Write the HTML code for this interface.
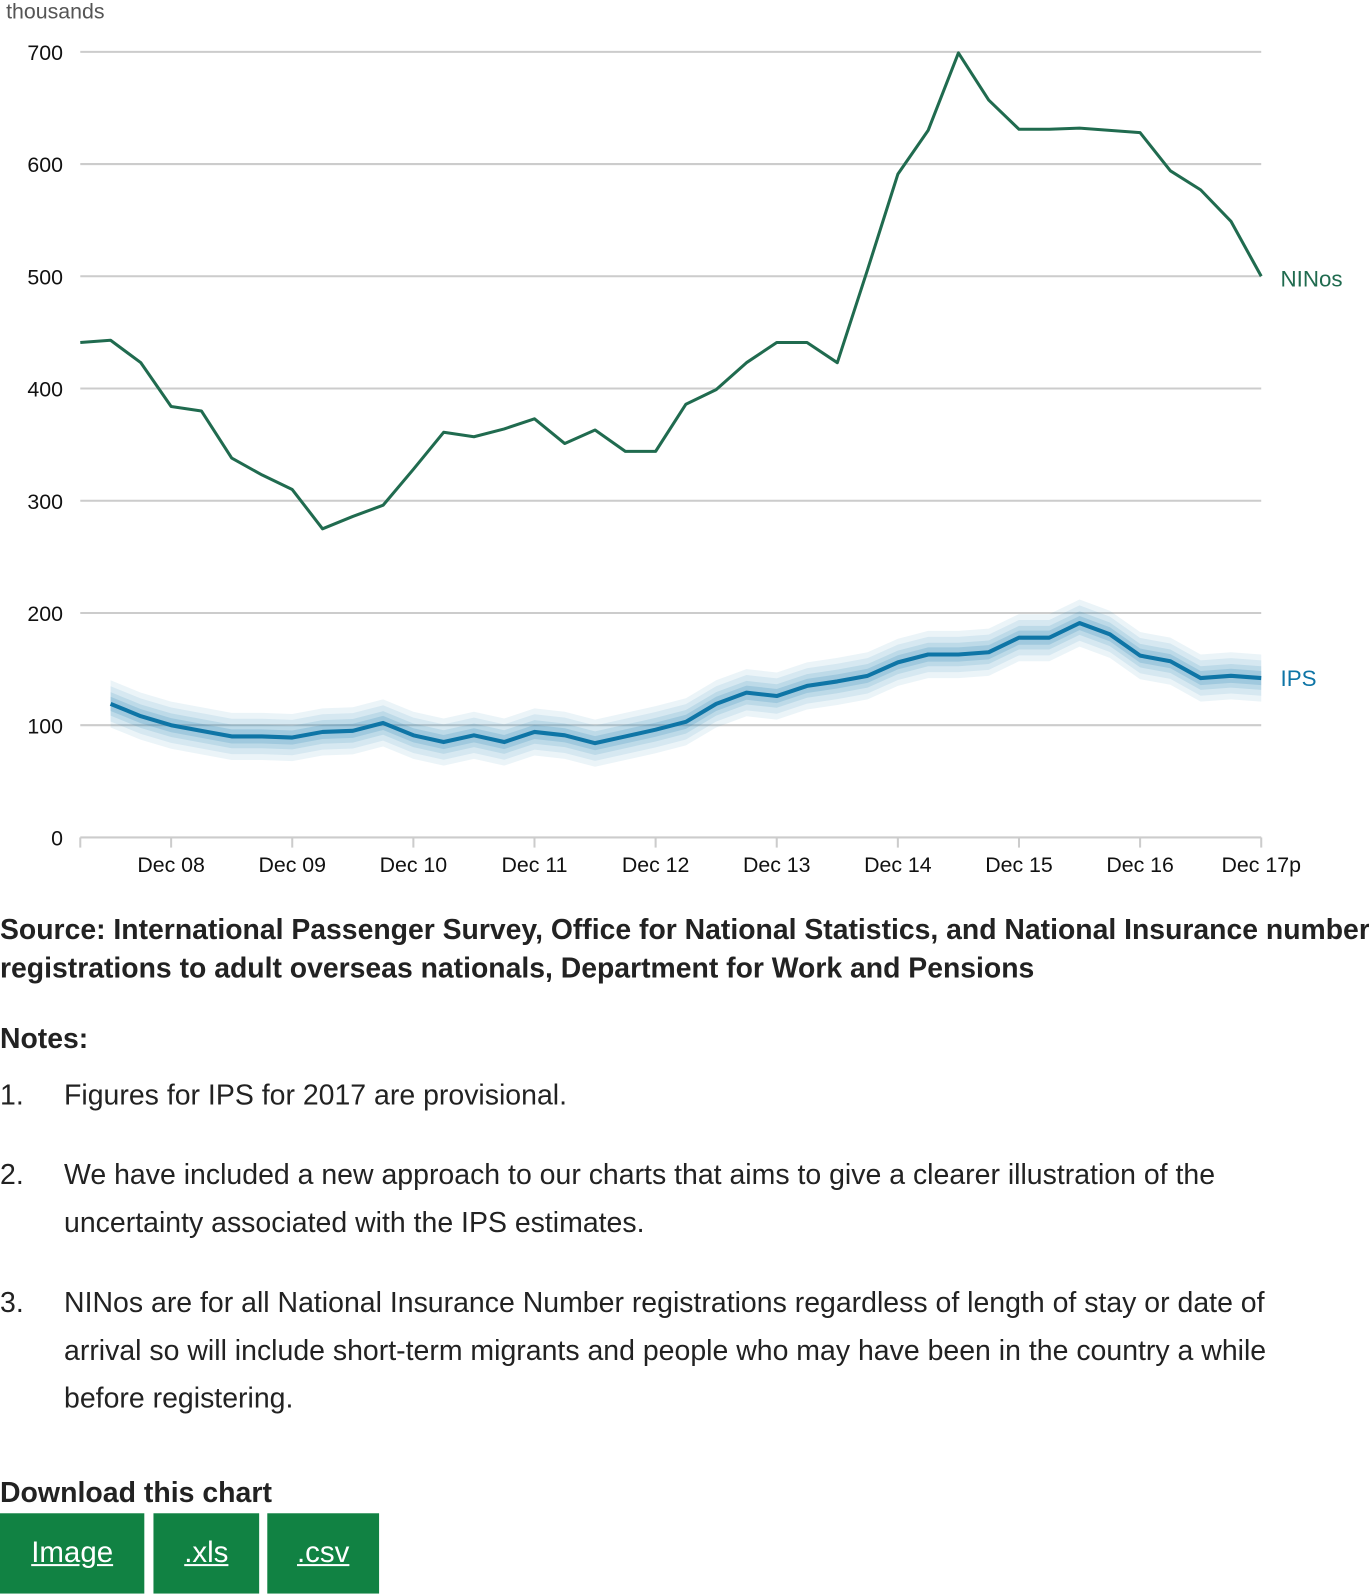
<!DOCTYPE html>
<html><head><meta charset="utf-8">
<style>
html,body{margin:0;padding:0}
body{width:1369px;height:1593px;background:#fff;overflow:hidden}
#wrap{position:absolute;left:0;top:0;width:1347px;height:1568px;transform:scale(1.0163);transform-origin:0 0;font-family:"Liberation Sans",sans-serif;color:#222}
.t{position:absolute;left:0;margin:0}
.src{top:896px;font-size:27.9px;font-weight:bold;line-height:38px;width:1360px}
.notes{font-size:27.9px;font-weight:bold}
.note{position:absolute;left:0;font-size:28px;line-height:47px}
.note .n{position:absolute;left:0}
.note .b{position:absolute;left:63px;width:1240px}
.btn{position:absolute;top:1489px;height:79px;background:#118243;color:#fff;font-size:29px;text-decoration:underline;display:flex;align-items:center;justify-content:center}
</style></head><body>
<div id="wrap">
<svg id="chart" width="1347" height="880" style="position:absolute;left:0;top:0"></svg>
<p class="t src">Source: International Passenger Survey, Office for National Statistics, and National Insurance number registrations to adult overseas nationals, Department for Work and Pensions</p>
<p class="t notes" style="top:1006px">Notes:</p>
<div class="note" style="top:1054px"><span class="n">1.</span><span class="b">Figures for IPS for 2017 are provisional.</span></div>
<div class="note" style="top:1132px"><span class="n">2.</span><span class="b">We have included a new approach to our charts that aims to give a clearer illustration of the uncertainty associated with the IPS estimates.</span></div>
<div class="note" style="top:1258px"><span class="n">3.</span><span class="b">NINos are for all National Insurance Number registrations regardless of length of stay or date of arrival so will include short-term migrants and people who may have been in the country a while before registering.</span></div>
<p class="t" style="top:1453px;font-size:28px;font-weight:bold">Download this chart</p>
<a class="btn" style="left:0;width:142px">Image</a>
<a class="btn" style="left:151px;width:104px">.xls</a>
<a class="btn" style="left:263px;width:110px">.csv</a>
</div>
<script>
const yTicks=[0,100,200,300,400,500,600,700];
const xLabels=["Dec 08","Dec 09","Dec 10","Dec 11","Dec 12","Dec 13","Dec 14","Dec 15","Dec 16","Dec 17p"];
const ninos=[441,443,423,384,380,338,323,310,275,286,296,328,361,357,364,373,351,363,344,344,386,399,423,441,441,423,506,591,630,699,657,631,631,632,630,628,594,577,549,500];
const ips=[119,108,100,95,90,90,89,94,95,102,91,85,91,85,94,91,84,90,96,103,119,129,126,135,139,144,156,163,163,165,178,178,191,181,162,157,142,144,142];
const ipsUnc=21;
const NS="http://www.w3.org/2000/svg";
const svg=document.getElementById('chart');
const x0=79,qw=(1241-79)/39;
const xq=i=>x0+i*qw;
const y=v=>824-v*(773/700);
function mk(t,a,p){const e=document.createElementNS(NS,t);for(const k in a)e.setAttribute(k,a[k]);(p||svg).appendChild(e);return e;}
yTicks.forEach(v=>{
 const l=mk('line',{x1:79,x2:1241,y1:y(v),y2:y(v),stroke:'#ccc','stroke-width':2});
 
 
 const t=mk('text',{x:62,y:y(v)+8,'text-anchor':'end','font-size':21,fill:'#111'});t.textContent=v;
 
 
});
const yt=mk('text',{x:6,y:18,'font-size':21,fill:'#555'});yt.textContent='thousands';


mk('line',{x1:xq(0),x2:xq(0),y1:824,y2:834,stroke:'#ccc','stroke-width':2});
xLabels.forEach((s,i)=>{
 const xx=xq(3+4*i);
 mk('line',{x1:xx,x2:xx,y1:824,y2:834,stroke:'#ccc','stroke-width':2});
 const t=mk('text',{x:xx,y:858,'text-anchor':'middle','font-size':21,fill:'#111'});t.textContent=s;
 
 
});
[[1,0.1],[0.75,0.12],[0.5,0.16],[0.3,0.22]].forEach(([f,op])=>{
 let up=ips.map((v,i)=>xq(i+1)+','+y(v+ipsUnc*f)).join(' ');
 let dn=ips.map((v,i)=>xq(i+1)+','+y(v-ipsUnc*f)).reverse().join(' ');
 const p=mk('polygon',{points:up+' '+dn,fill:'#3a8fbb','fill-opacity':op});
 
 
});
const ipl=mk('polyline',{points:ips.map((v,i)=>xq(i+1)+','+y(v)).join(' '),fill:'none',stroke:'#0e75a6','stroke-width':4,'stroke-linejoin':'round'});


const nl=mk('polyline',{points:ninos.map((v,i)=>xq(i)+','+y(v)).join(' '),fill:'none',stroke:'#206b4f','stroke-width':3,'stroke-linejoin':'round'});


const l1=mk('text',{x:1260,y:y(ninos[ninos.length-1])+10,'font-size':22,fill:'#206b4f'});l1.textContent='NINos';


const l2=mk('text',{x:1260,y:y(ips[ips.length-1])+8,'font-size':22,fill:'#0e75a6'});l2.textContent='IPS';


</script>
</body></html>
